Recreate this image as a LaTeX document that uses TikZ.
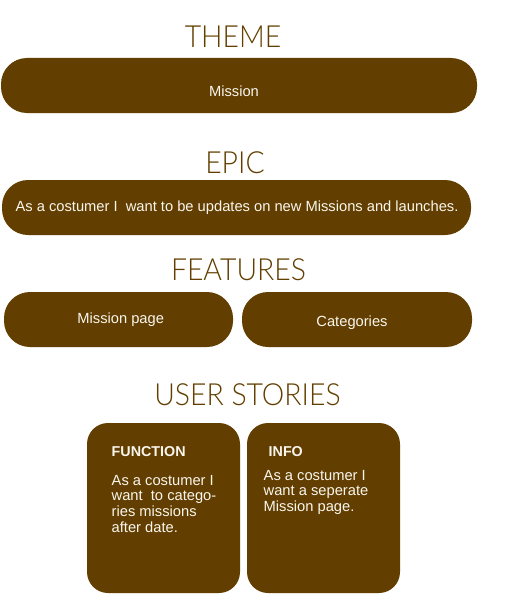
\documentclass[tikz,border=0pt]{standalone}
\usepackage{fontspec}
\setmainfont{Liberation Sans}
\newfontfamily\headfont{Lato Light}[FakeStretch=0.93]
\definecolor{bark}{HTML}{623F00}
\definecolor{cream}{HTML}{FAF6EE}

\begin{document}
\begin{tikzpicture}[x=1pt,y=-1pt,
  pill/.style={fill=bark, draw=none, rounded corners=26pt, inner sep=0pt},
  card/.style={fill=bark, draw=none, rounded corners=21pt, inner sep=0pt,
    minimum width=153pt, minimum height=170pt},
  pilltext/.style={text=cream, anchor=base, inner sep=0pt,
    font=\fontsize{14.7}{16}\selectfont},
  cardhead/.style={text=cream, anchor=base west, inner sep=0pt,
    font=\bfseries\fontsize{14.3}{16}\selectfont},
  % multi-line body text is placed by the baseline of its last line
  cardbody/.style={text=cream, anchor=base west, inner sep=0pt, align=left,
    font=\fontsize{14.7}{15.7}\selectfont},
  heading/.style={text=bark, anchor=base, inner sep=0pt,
    font=\headfont\fontsize{30.5}{34}\selectfont}]
\useasboundingbox (0,0) rectangle (529,594);

% Theme
\node[heading] (themeH) at (233,48) {THEME};
\node[pill, minimum width=476pt, minimum height=55pt] (theme) at (239,85.5) {};
\node[pilltext] (themeT) at (234,96) {Mission};

% Epic
\node[heading] (epicH) at (235,173) {EPIC};
\node[pill, minimum width=469pt, minimum height=55pt] (epic) at (236.5,207.5) {};
\node[pilltext] (epicT) at (237,211) {As a costumer I\ \ want to be updates on new Missions and launches.};

% Features
\node[heading] (featH) at (238.5,280) {FEATURES};
\node[pill, minimum width=229pt, minimum height=55pt] (feat1) at (118.5,319.5) {};
\node[pill, minimum width=230pt, minimum height=55pt] (feat2) at (357,319.5) {};
\node[pilltext] (feat1T) at (120.7,323.3) {Mission page};
\node[pilltext] (feat2T) at (352,326) {Categories};

% User stories
\node[heading] (storyH) at (247.5,405) {USER STORIES};
\node[card] (story1) at (163.5,508) {};
\node[card] (story2) at (323.5,508) {};
\node[cardhead] (story1H) at (111.5,456.7) {FUNCTION};
\node[cardbody] (story1T) at (111.5,532.1) {As a costumer I\\want\ \ to catego-\\ries missions\\after date.};
\node[cardhead] (story2H) at (268.5,456.7) {INFO};
\node[cardbody] (story2T) at (263.5,511.4) {As a costumer I\\want a seperate\\Mission page.};
\end{tikzpicture}
\end{document}
